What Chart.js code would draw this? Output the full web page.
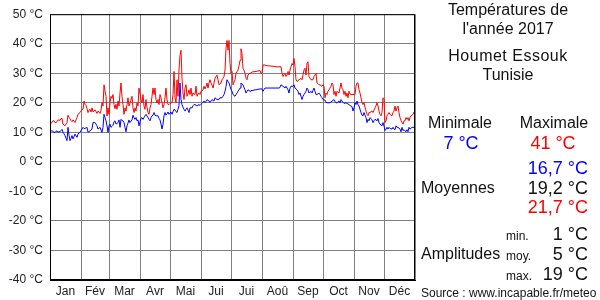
<!DOCTYPE html>
<html lang="fr">
<head>
<meta charset="UTF-8">
<title>Températures de l'année 2017 - Houmet Essouk</title>
<script src="https://cdn.jsdelivr.net/npm/chart.js"></script>
<style>
  html, body { margin: 0; padding: 0; background: #fff; }
  #wrap { width: 600px; height: 300px; }
</style>
</head>
<body>
<div id="wrap"><canvas id="tempChart" width="600" height="300"></canvas></div>
<script>
// Daily values 2017
var monthLabels = ["Jan", "Fév", "Mar", "Avr", "Mai", "Jui", "Jui", "Aoû", "Sep", "Oct", "Nov", "Déc"];
var monthStarts = [0, 31, 59, 90, 120, 151, 181, 212, 243, 273, 304, 334, 365];
var yTicks = [-40, -30, -20, -10, 0, 10, 20, 30, 40, 50];

var tmax = [
  13.1,13.1,13.3,13.9,13.9,13.3,13.3,13.6,14.2,14.2,14.0,14.7,14.7,12.8,12.5,12.2,12.8,13.3,15.8,15.0,14.7,14.0,13.6,14.2,13.8,13.3,14.2,15.0,16.1,16.4,16.7,
  17.2,17.8,17.8,20.6,19.5,19.1,18.0,16.7,17.5,17.8,16.9,18.3,16.9,17.2,17.6,17.0,16.4,17.2,16.9,16.4,17.5,20.0,18.9,26.1,24.0,22.2,15.5,18.3,
  16.1,20.0,22.2,21.5,22.8,19.4,18.0,19.5,17.8,20.6,18.9,23.3,26.7,22.0,19.4,16.1,18.3,17.2,19.4,21.7,18.9,20.0,21.0,22.2,18.3,16.7,18.3,17.2,20.0,18.9,25.0,
  23.0,21.1,20.0,22.8,18.9,17.8,21.1,18.5,16.7,16.1,18.3,19.4,22.2,25.0,22.8,25.0,21.1,20.0,21.1,19.4,22.8,21.7,20.0,18.3,19.4,21.7,25.0,21.1,19.4,19.4,
  19.8,20.0,20.0,22.8,30.6,21.7,20.0,27.8,22.2,31.1,36.1,37.8,28.3,23.3,21.1,25.0,26.1,22.2,23.0,24.4,22.8,25.0,22.2,23.3,23.0,22.8,25.6,22.2,23.0,23.3,22.8,
  23.9,24.0,24.4,25.6,24.7,25.5,26.7,25.0,26.7,27.8,26.7,26.0,25.0,26.7,28.3,28.9,29.4,27.8,26.1,26.5,26.7,27.8,28.3,28.9,31.1,38.3,41.1,37.8,41.1,33.3,
  30.0,30.6,26.1,27.0,27.8,30.0,30.5,31.1,32.5,34.4,38.3,36.7,31.7,31.0,30.0,28.3,27.8,29.4,29.8,30.0,30.2,30.4,30.5,30.5,30.6,30.6,30.7,30.8,30.8,30.9,30.0,
  30.0,32.8,32.8,32.8,32.6,32.6,32.5,32.5,32.5,32.4,32.4,32.4,32.3,32.3,32.2,32.2,32.2,32.2,32.2,32.2,30.0,28.9,29.5,30.0,28.9,29.4,30.6,29.4,31.1,32.2,33.3,
  32.8,35.0,32.2,27.8,27.2,27.5,27.8,28.0,28.3,27.8,29.5,31.1,31.7,29.4,33.3,33.9,28.9,28.3,27.8,27.8,27.8,28.9,29.4,30.0,26.7,26.5,26.1,26.1,25.8,25.6,
  26.1,25.6,21.7,23.3,22.8,23.9,24.4,25.0,25.6,26.7,26.1,22.8,23.9,22.2,23.9,23.5,23.3,25.0,26.7,25.0,24.4,22.8,23.9,22.2,23.3,21.7,23.9,23.0,22.8,22.8,22.8,
  22.8,22.8,25.6,26.7,26.7,24.4,23.3,21.7,20.0,19.4,20.0,18.5,17.2,16.1,15.6,16.7,16.7,17.0,17.2,16.7,17.5,18.3,19.0,20.0,18.9,17.2,16.1,15.6,16.7,21.7,
  21.1,13.3,13.9,15.6,16.1,16.7,16.1,15.8,15.6,16.7,17.2,18.9,17.2,18.3,18.9,16.7,15.0,14.0,13.3,12.8,13.9,13.9,15.0,14.4,15.0,13.9,15.0,15.6,15.8,16.1,16.9
];

var tmin = [
  10.5,10.5,10.5,10.3,10.0,10.0,10.3,10.5,10.0,10.2,10.2,10.6,11.0,10.0,9.5,8.9,8.0,7.2,11.7,9.0,7.2,8.0,8.9,7.8,8.5,9.4,8.8,8.3,9.4,9.8,10.0,
  10.6,11.1,11.7,11.3,11.3,11.5,11.7,10.0,10.3,10.5,10.8,11.1,13.3,13.3,13.3,12.8,12.2,11.1,11.4,11.7,10.8,10.0,11.7,16.1,15.0,13.9,12.2,10.0,
  12.2,12.8,11.7,12.0,12.4,13.6,13.9,12.8,13.0,13.3,14.2,11.7,14.4,14.0,13.9,13.3,11.7,10.2,12.2,13.1,14.2,13.3,13.8,14.2,15.8,15.0,14.4,15.0,13.9,14.2,12.2,
  13.5,14.7,15.0,14.4,15.0,15.6,16.1,15.5,15.0,14.4,13.9,15.0,15.6,15.8,16.7,15.8,15.6,15.6,15.6,14.7,14.2,12.8,11.1,12.8,15.6,16.7,15.8,16.3,16.9,16.1,
  16.5,16.9,16.1,17.0,17.8,17.6,17.0,16.7,17.8,19.1,26.7,21.1,19.4,18.5,17.8,17.2,17.8,18.3,17.5,16.7,18.3,18.3,18.3,19.0,19.4,19.4,19.2,18.9,19.2,19.4,19.1,
  19.5,19.8,20.2,20.6,20.0,20.5,21.1,20.8,20.6,20.2,20.6,21.1,20.8,20.6,21.7,21.4,21.1,21.1,21.1,21.7,21.7,21.7,22.2,22.8,23.9,25.5,27.8,27.2,26.7,25.6,
  24.5,23.9,22.8,22.5,22.2,22.8,23.3,23.9,24.4,25.0,26.7,26.4,26.1,25.2,24.4,23.3,23.9,24.4,24.2,23.9,24.1,24.2,24.2,24.3,24.4,24.4,24.5,24.6,24.6,24.7,24.7,
  24.7,23.9,24.5,25.0,25.0,25.0,25.0,25.0,25.0,25.0,25.0,25.0,25.0,25.0,25.0,25.0,25.0,25.0,25.2,26.1,25.8,25.6,25.3,25.0,25.6,25.0,24.4,23.3,25.0,25.6,25.6,
  25.6,26.1,25.0,24.7,24.4,23.9,22.8,23.3,22.2,21.1,22.2,22.8,23.3,23.9,25.0,24.4,23.3,23.6,23.9,23.3,24.2,25.0,23.9,22.8,22.8,23.0,23.3,22.8,22.2,21.7,
  21.1,21.0,20.9,20.2,20.0,20.0,20.0,20.0,20.3,20.6,20.8,21.1,20.5,20.0,20.0,20.3,20.6,20.0,21.1,20.6,20.2,19.8,19.9,20.0,19.8,19.6,19.4,19.1,18.9,18.7,17.2,
  18.3,20.0,19.4,20.6,19.4,18.9,17.8,16.7,15.8,15.6,16.7,15.8,15.0,13.3,14.4,13.9,15.0,14.6,14.2,13.3,13.9,14.4,14.2,13.9,14.7,13.3,12.8,12.5,12.2,13.3,
  12.2,10.6,11.1,11.7,11.1,11.7,11.3,11.2,11.1,11.7,11.1,10.9,12.2,11.7,11.7,11.4,11.1,10.2,11.7,10.6,10.9,10.5,10.2,10.9,10.2,11.7,11.1,11.4,11.7,11.7,11.7
];

// summary block on the right
var statsMin = "7 °C", statsMax = "41 °C";
var moyennes = ["16,7 °C", "19,2 °C", "21,7 °C"];
var amplitudes = [["min.", "1 °C"], ["moy.", "5 °C"], ["max.", "19 °C"]];

var FONT = '"Liberation Sans", Arial, sans-serif';
Chart.defaults.font.family = FONT;
Chart.defaults.font.size = 12;
Chart.defaults.color = '#222';

var mids = [];
for (var i = 0; i < 12; i++) mids.push((monthStarts[i] + monthStarts[i + 1]) / 2);

function toPoints(arr) {
  return arr.map(function (v, i) { return { x: i, y: v }; });
}

var sidePanel = {
  id: 'sidePanel',
  afterDraw: function (chart) {
    var c = chart.ctx, a = chart.chartArea;
    c.save();
    // frame round the plot
    c.strokeStyle = '#000';
    c.lineWidth = 1;
    c.strokeRect(a.left + 0.5, a.top + 0.5, a.right - a.left - 1, a.bottom - a.top - 1);

    c.textBaseline = 'middle';
    c.fillStyle = '#111';
    c.textAlign = 'center';
    c.font = '16px ' + FONT;
    c.fillText("Températures de", 508, 11);
    c.fillText("l'année 2017", 508, 30);
    c.letterSpacing = '0.5px';
    c.fillText("Houmet Essouk", 508, 57);
    c.letterSpacing = '0px';
    c.fillText("Tunisie", 508, 76);

    c.font = '16px ' + FONT;
    c.fillText("Minimale", 460, 124);
    c.fillText("Maximale", 554, 124);
    c.font = '18px ' + FONT;
    c.fillStyle = '#0000ff';
    c.fillText(statsMin, 461, 144);
    c.fillStyle = '#ff0000';
    c.fillText(statsMax, 553, 144);

    c.textAlign = 'right';
    c.fillStyle = '#0000ff';
    c.fillText(moyennes[0], 588, 169);
    c.fillStyle = '#111';
    c.fillText(moyennes[1], 588, 189);
    c.fillStyle = '#ff0000';
    c.fillText(moyennes[2], 588, 208);

    c.fillStyle = '#111';
    c.textAlign = 'left';
    c.font = '16px ' + FONT;
    c.fillText("Moyennes", 421, 189);
    c.fillText("Amplitudes", 421, 255);
    for (var k = 0; k < 3; k++) {
      c.textAlign = 'left';
      c.font = '12px ' + FONT;
      c.fillText(amplitudes[k][0], 506, 237 + k * 20);
      c.textAlign = 'right';
      c.font = '18px ' + FONT;
      c.fillText(amplitudes[k][1], 588, 235 + k * 20);
    }

    c.textAlign = 'left';
    c.font = '12px ' + FONT;
    c.fillText("Source : www.incapable.fr/meteo", 421, 294);
    c.restore();
  }
};

new Chart(document.getElementById('tempChart'), {
  type: 'line',
  data: {
    datasets: [
      { label: 'Maximale', data: toPoints(tmax), borderColor: '#ff0000', borderWidth: 1, pointRadius: 0, tension: 0, fill: false },
      { label: 'Minimale', data: toPoints(tmin), borderColor: '#0000ff', borderWidth: 1, pointRadius: 0, tension: 0, fill: false }
    ]
  },
  options: {
    responsive: false,
    animation: false,
    events: [],
    layout: { padding: { left: 0, right: 185, top: 10, bottom: 0 } },
    plugins: { legend: { display: false }, tooltip: { enabled: false }, title: { display: false } },
    scales: {
      x: {
        type: 'linear',
        min: 0,
        max: 365,
        afterBuildTicks: function (s) {
          s.ticks = monthStarts.concat(mids).sort(function (p, q) { return p - q; }).map(function (v) { return { value: v }; });
        },
        afterFit: function (s) { s.height = 20; },
        ticks: {
          autoSkip: false,
          maxRotation: 0,
          padding: 4,
          color: '#222',
          callback: function (v) {
            var j = mids.indexOf(v);
            return j >= 0 ? monthLabels[j] : '';
          }
        },
        grid: {
          drawTicks: false,
          color: function (ctx) {
            return ctx.tick && monthStarts.indexOf(ctx.tick.value) >= 0 ? '#808080' : 'rgba(0,0,0,0)';
          },
          lineWidth: 1
        },
        border: { color: '#000' }
      },
      y: {
        min: -40,
        max: 50,
        afterBuildTicks: function (s) {
          s.ticks = yTicks.map(function (v) { return { value: v }; });
        },
        afterFit: function (s) { s.width = 50; },
        ticks: {
          padding: 7,
          color: '#222',
          callback: function (v) { return v + ' °C'; }
        },
        grid: { drawTicks: false, color: '#808080', lineWidth: 1 },
        border: { color: '#000' }
      }
    }
  },
  plugins: [sidePanel]
});
</script>
</body>
</html>
